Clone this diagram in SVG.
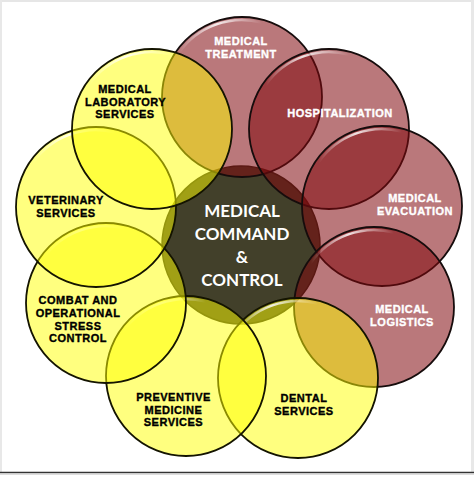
<svg xmlns="http://www.w3.org/2000/svg" xmlns:xlink="http://www.w3.org/1999/xlink" width="474" height="490" viewBox="0 0 474 490">
<style>
.red{fill:rgb(130,10,15);fill-opacity:0.55;stroke:#160c0c;stroke-width:1.8}
.yel{fill:#ffff00;fill-opacity:0.5;stroke:#141400;stroke-width:1.8}
.ctr{fill:#42402a;stroke:#2a2a18;stroke-width:1.5}
.hl{fill:none;stroke:url(#hlg);stroke-width:2.5;stroke-linecap:round}
.lw{font-family:"Liberation Sans",Arial,sans-serif;font-weight:bold;font-size:11px;letter-spacing:0.5px;text-anchor:middle;fill:#ffffff;stroke:#ffffff;stroke-width:0.35}
.lb{font-family:"Liberation Sans",Arial,sans-serif;font-weight:bold;font-size:11px;letter-spacing:0.5px;text-anchor:middle;fill:#000000;stroke:#000000;stroke-width:0.35}
.ct{font-family:Lato,"Open Sans",sans-serif;font-weight:bold;font-size:17px;text-anchor:middle;fill:#ffffff}
</style>
<defs>
<linearGradient id="hlg" x1="0" y1="0" x2="1" y2="0">
<stop offset="0" stop-color="#fff" stop-opacity="0"/>
<stop offset="0.45" stop-color="#fff" stop-opacity="0.85"/>
<stop offset="1" stop-color="#fff" stop-opacity="0"/>
</linearGradient>
<path id="hlp" d="M-63.1,-44.2 A77,77 0 0 1 19.9,-74.4"/>
</defs>
<rect x="0" y="0" width="474" height="490" fill="#ffffff"/>
<rect x="0" y="0" width="474" height="2" fill="#e6e6e6"/>
<rect x="0" y="0" width="2" height="472" fill="#e8e8e8"/>
<rect x="471" y="0" width="3" height="472" fill="#e8e8e8"/>
<line x1="0" y1="472.5" x2="474" y2="472.5" stroke="#333333" stroke-width="1.5"/>
<line x1="0" y1="474.5" x2="474" y2="474.5" stroke="#dddddd" stroke-width="1"/>

<g id="connectors"/>

<g id="center">
<circle class="ctr" cx="241" cy="245" r="79"/>
</g>
<g id="medical-treatment">
<circle class="red" cx="242" cy="97" r="80"/>
<use xlink:href="#hlp" href="#hlp" class="hl" x="242" y="97"/>
<text class="lw" x="241" y="45">MEDICAL</text>
<text class="lw" x="241" y="57.5">TREATMENT</text>
</g>
<g id="hospitalization">
<circle class="red" cx="329" cy="129" r="80"/>
<use xlink:href="#hlp" href="#hlp" class="hl" x="329" y="129"/>
<text class="lw" x="340" y="117">HOSPITALIZATION</text>
</g>
<g id="medical-evacuation">
<circle class="red" cx="382" cy="206" r="80"/>
<use xlink:href="#hlp" href="#hlp" class="hl" x="382" y="206"/>
<text class="lw" x="415" y="202">MEDICAL</text>
<text class="lw" x="415" y="215">EVACUATION</text>
</g>
<g id="medical-logistics">
<circle class="red" cx="374" cy="307" r="80"/>
<use xlink:href="#hlp" href="#hlp" class="hl" x="374" y="307"/>
<text class="lw" x="402" y="313">MEDICAL</text>
<text class="lw" x="402" y="326">LOGISTICS</text>
</g>
<g id="dental-services">
<circle class="yel" cx="298" cy="378" r="80"/>
<use xlink:href="#hlp" href="#hlp" class="hl" x="298" y="378"/>
<text class="lb" x="304" y="402">DENTAL</text>
<text class="lb" x="304" y="415">SERVICES</text>
</g>
<g id="preventive-medicine">
<circle class="yel" cx="186" cy="376" r="80"/>
<use xlink:href="#hlp" href="#hlp" class="hl" x="186" y="376"/>
<text class="lb" x="173.5" y="401">PREVENTIVE</text>
<text class="lb" x="173.5" y="413.5">MEDICINE</text>
<text class="lb" x="173.5" y="426">SERVICES</text>
</g>
<g id="combat-stress">
<circle class="yel" cx="106" cy="303" r="80"/>
<use xlink:href="#hlp" href="#hlp" class="hl" x="106" y="303"/>
<text class="lb" x="78" y="304">COMBAT AND</text>
<text class="lb" x="78" y="317">OPERATIONAL</text>
<text class="lb" x="78" y="329.5">STRESS</text>
<text class="lb" x="78" y="342">CONTROL</text>
</g>
<g id="veterinary-services">
<circle class="yel" cx="96" cy="207" r="80"/>
<use xlink:href="#hlp" href="#hlp" class="hl" x="96" y="207"/>
<text class="lb" x="66" y="204">VETERINARY</text>
<text class="lb" x="66" y="217">SERVICES</text>
</g>
<g id="medical-laboratory">
<circle class="yel" cx="152" cy="129" r="80"/>
<use xlink:href="#hlp" href="#hlp" class="hl" x="152" y="129"/>
<text class="lb" x="125" y="93">MEDICAL</text>
<text class="lb" x="125.5" y="105.5">LABORATORY</text>
<text class="lb" x="125" y="118">SERVICES</text>
</g>
<g id="center-label">
<text class="ct" x="242" y="217">MEDICAL</text>
<text class="ct" x="242" y="240">COMMAND</text>
<text class="ct" x="242" y="263">&amp;</text>
<text class="ct" x="242" y="286">CONTROL</text>
</g>
</svg>
